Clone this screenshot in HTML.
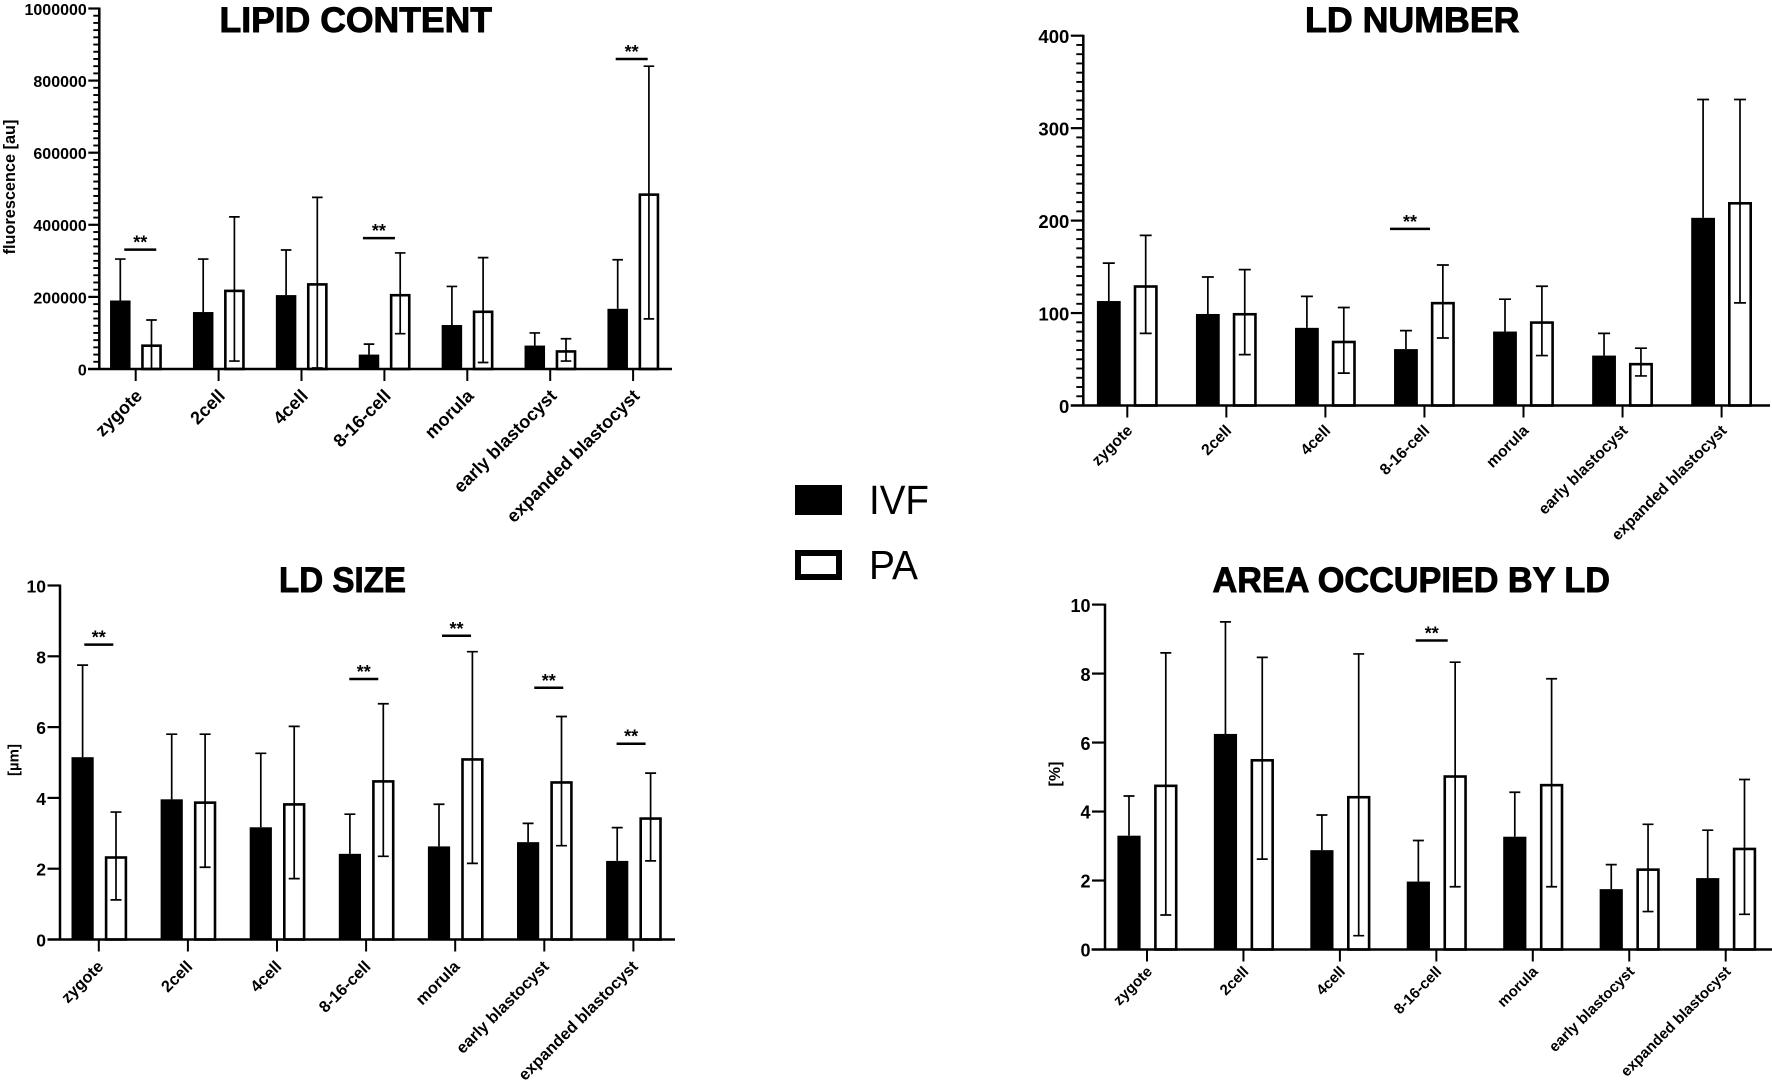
<!DOCTYPE html>
<html lang="en">
<head>
<meta charset="utf-8">
<title>Lipid droplet charts: IVF vs PA</title>
<style>
  html, body { margin: 0; padding: 0; background: #fff; }
  svg { display: block; filter: blur(0.3px); }
  text { font-family: "Liberation Sans", Arial, sans-serif; fill: #000; }
  .title { stroke: #000; stroke-width: 0.9; }
</style>
</head>
<body>
<svg id="figure" xmlns="http://www.w3.org/2000/svg" width="1772" height="1082" viewBox="0 0 1772 1082">
  <rect x="0" y="0" width="1772" height="1082" fill="#fff"/>
  <text class="title" x="219.5" y="32" font-size="35" font-weight="700" textLength="272.5" lengthAdjust="spacingAndGlyphs">LIPID CONTENT</text>
  <text class="title" x="1305" y="32" font-size="35" font-weight="700" textLength="214.5" lengthAdjust="spacingAndGlyphs">LD NUMBER</text>
  <text class="title" x="279" y="592" font-size="35" font-weight="700" textLength="127" lengthAdjust="spacingAndGlyphs">LD SIZE</text>
  <text class="title" x="1212.5" y="592" font-size="35" font-weight="700" textLength="397.5" lengthAdjust="spacingAndGlyphs">AREA OCCUPIED BY LD</text>
  <text transform="translate(15 187) rotate(-90)" text-anchor="middle" font-size="16.3" font-weight="700">fluorescence [au]</text>
  <text transform="translate(18.5 760) rotate(-90)" text-anchor="middle" font-size="15" font-weight="700">[µm]</text>
  <text transform="translate(1060 774) rotate(-90)" text-anchor="middle" font-size="16" font-weight="700">[%]</text>
  <g>
    <rect x="795" y="485" width="47" height="30" fill="#000"/>
    <text x="869" y="514" font-size="41" textLength="60" lengthAdjust="spacingAndGlyphs">IVF</text>
    <rect x="798" y="553" width="41" height="24" fill="#fff" stroke="#000" stroke-width="6"/>
    <text x="869" y="579" font-size="41" textLength="49" lengthAdjust="spacingAndGlyphs">PA</text>
  </g>
</svg>
<script>
// Shared categories
const categories = ["zygote", "2cell", "4cell", "8-16-cell", "morula", "early blastocyst", "expanded blastocyst"];

// LIPID CONTENT values
const lipidTicks = [0, 200000, 400000, 600000, 800000, 1000000];
const lipidIvf = [190000, 158000, 205000, 40000, 122000, 65000, 167000];
const lipidIvfUpper = [305000, 305000, 330000, 69000, 229000, 100000, 303000];
const lipidPa = [68000, 220000, 238000, 208000, 162000, 52000, 487000];
const lipidPaUpper = [136000, 422000, 476000, 322000, 309000, 84000, 840000];
const lipidPaLower = [0, 22000, 3000, 98000, 18000, 22000, 139000];
const lipidSigCategory = [0.055, 2.934, 5.983];
const lipidSigLevel = [331000, 363000, 860000];

// LD NUMBER values
const numberTicks = [0, 100, 200, 300, 400];
const numberIvf = [113, 99, 84, 61, 80, 54, 203];
const numberIvfUpper = [154, 139, 118, 81, 115, 78, 331];
const numberPa = [130, 100, 70, 112, 91, 46, 220];
const numberPaUpper = [184, 147, 106, 152, 129, 62, 331];
const numberPaLower = [78, 55, 35, 73, 54, 32, 111];
const numberSigCategory = [2.854];
const numberSigLevel = [191];

// LD SIZE values
const sizeTicks = [0, 2, 4, 6, 8, 10];
const sizeIvf = [5.15, 3.96, 3.17, 2.42, 2.63, 2.75, 2.22];
const sizeIvfUpper = [7.75, 5.8, 5.26, 3.54, 3.82, 3.28, 3.16];
const sizePa = [2.35, 3.9, 3.85, 4.5, 5.12, 4.47, 3.45];
const sizePaUpper = [3.6, 5.8, 6.02, 6.66, 8.13, 6.3, 4.7];
const sizePaLower = [1.12, 2.04, 1.72, 2.35, 2.15, 2.65, 2.22];
const sizeSigCategory = [0, 2.974, 4.015, 5.05, 5.974];
const sizeSigLevel = [8.33, 7.36, 8.58, 7.11, 5.53];

// AREA OCCUPIED values
const areaTicks = [0, 2, 4, 6, 8, 10];
const areaIvf = [3.3, 6.25, 2.88, 1.97, 3.27, 1.75, 2.07];
const areaIvfUpper = [4.45, 9.5, 3.9, 3.16, 4.56, 2.46, 3.46];
const areaPa = [4.78, 5.52, 4.45, 5.05, 4.8, 2.35, 2.95];
const areaPaUpper = [8.6, 8.47, 8.57, 8.33, 7.85, 3.63, 4.93];
const areaPaLower = [1.0, 2.62, 0.4, 1.82, 1.82, 1.1, 1.02];
const areaSigCategory = [2.952];
const areaSigLevel = [8.96];

const SVG_NS = "http://www.w3.org/2000/svg";
const figure = document.getElementById("figure");

function makeEl(tag, parent, attrs) {
  const el = document.createElementNS(SVG_NS, tag);
  for (const k in attrs) el.setAttribute(k, attrs[k]);
  parent.appendChild(el);
  return el;
}

function drawChart(c) {
  const yScale = v => c.yZero - (v / c.max) * (c.yZero - c.yTop);
  const xScale = i => c.firstTick + i * c.step;

  const group = makeEl("g", figure, {});
  
  

  // Bars and error bars
  categories.forEach((label, i) => {
    const ivfX = xScale(i) + c.ivfOffset;
    const paX = xScale(i) + c.paOffset;

    const ivfBar = makeEl("rect", group, {
      x: ivfX - c.barW / 2, y: yScale(c.ivf[i]),
      width: c.barW, height: c.yZero - yScale(c.ivf[i]), fill: "#000"
    });
    
    

    const paBar = makeEl("rect", group, {
      x: paX - c.barW / 2 + 1.2, y: yScale(c.pa[i]) + 1.2,
      width: c.barW - 2.4, height: c.yZero - yScale(c.pa[i]) - 1.2,
      fill: "#fff", stroke: "#000", "stroke-width": 2.6
    });
    
    

    const ivfErr = makeEl("path", group, {
      d: "M" + ivfX + " " + yScale(c.ivf[i]) + "V" + yScale(c.ivfUpper[i]) +
         "M" + (ivfX - c.cap) + " " + yScale(c.ivfUpper[i]) + "H" + (ivfX + c.cap),
      fill: "none", stroke: "#000", "stroke-width": 1.7
    });
    
    

    const paErr = makeEl("path", group, {
      d: "M" + paX + " " + yScale(c.paLower[i]) + "V" + yScale(c.paUpper[i]) +
         "M" + (paX - c.cap) + " " + yScale(c.paUpper[i]) + "H" + (paX + c.cap) +
         "M" + (paX - c.cap) + " " + yScale(c.paLower[i]) + "H" + (paX + c.cap),
      fill: "none", stroke: "#000", "stroke-width": 1.7
    });
    
    

    // Category tick and label
    const tick = makeEl("line", group, {
      x1: xScale(i), x2: xScale(i), y1: c.yZero, y2: c.yZero + c.catTick,
      stroke: "#000", "stroke-width": 2
    });
    
    

    const ax = xScale(i) + c.labelDx;
    const ay = c.yZero + c.labelDy;
    const catLabel = makeEl("text", group, {
      transform: "translate(" + ax + " " + ay + ") rotate(-45)",
      "text-anchor": "end", "font-size": c.labelSize, "font-weight": 700
    });
    catLabel.textContent = label;
    
    
  });

  // Axes
  const xAxis = makeEl("line", group, {
    x1: c.xAxisStart, x2: c.xAxisEnd, y1: c.yZero, y2: c.yZero,
    stroke: "#000", "stroke-width": 2.5
  });
  
  

  const yAxis = makeEl("line", group, {
    x1: c.axisX, x2: c.axisX, y1: c.yTop - 1, y2: c.yZero,
    stroke: "#000", "stroke-width": 2.5
  });
  
  

  c.ticks.forEach((value, k) => {
    if (value !== 0) {
      const major = makeEl("line", group, {
        x1: c.axisX - c.majorLen, x2: c.axisX, y1: yScale(value), y2: yScale(value),
        stroke: "#000", "stroke-width": 2.2
      });
      
      
    }
    const tl = makeEl("text", group, {
      x: c.axisX - c.majorLen - 1.5, y: yScale(value) + c.tickSize * 0.4,
      "text-anchor": "end", "font-size": c.tickSize, "font-weight": 700
    });
    tl.textContent = String(value);
    
    

    if (c.minorPerMajor && k < c.ticks.length - 1) {
      const next = c.ticks[k + 1];
      for (let m = 1; m < c.minorPerMajor; m++) {
        const mv = value + (next - value) * m / c.minorPerMajor;
        const minor = makeEl("line", group, {
          x1: c.axisX - c.minorLen, x2: c.axisX, y1: yScale(mv), y2: yScale(mv),
          stroke: "#000", "stroke-width": 1.9
        });
        
        
      }
    }
  });

  // Significance markers
  c.sigCategory.forEach((pos, i) => {
    const sx = xScale(pos);
    const sy = yScale(c.sigLevel[i]);
    const sigLine = makeEl("line", group, {
      x1: sx - c.sigLen / 2, x2: sx + c.sigLen / 2, y1: sy, y2: sy,
      stroke: "#000", "stroke-width": 2.5
    });
    
    

    const stars = makeEl("text", group, {
      x: sx, y: sy - 1, "text-anchor": "middle", "font-size": 18, "font-weight": 700
    });
    stars.textContent = "**";
    
    
  });
}

drawChart({
  name: "lipid-content", max: 1000000, ticks: lipidTicks,
  ivf: lipidIvf, ivfUpper: lipidIvfUpper, pa: lipidPa, paUpper: lipidPaUpper, paLower: lipidPaLower,
  sigCategory: lipidSigCategory, sigLevel: lipidSigLevel,
  axisX: 99.3, yTop: 8.5, yZero: 369, firstTick: 135.7, step: 82.9,
  xAxisStart: 88, xAxisEnd: 672, barW: 20.5, ivfOffset: -15.4, paOffset: 15.8,
  cap: 5.3, catTick: 12, majorLen: 11, minorLen: 6, minorPerMajor: 10,
  tickSize: 16, labelSize: 18.1, labelDx: 7.5, labelDy: 28, sigLen: 32
});

drawChart({
  name: "ld-number", max: 400, ticks: numberTicks,
  ivf: numberIvf, ivfUpper: numberIvfUpper, pa: numberPa, paUpper: numberPaUpper, paLower: numberPaLower,
  sigCategory: numberSigCategory, sigLevel: numberSigLevel,
  axisX: 1083.3, yTop: 35.7, yZero: 405.5, firstTick: 1127.3, step: 99.05,
  xAxisStart: 1070.7, xAxisEnd: 1770, barW: 23.8, ivfOffset: -18.5, paOffset: 18.4,
  cap: 6, catTick: 12, majorLen: 12.5, minorLen: 7, minorPerMajor: 10,
  tickSize: 18.5, labelSize: 15.7, labelDx: 6, labelDy: 26, sigLen: 40
});

drawChart({
  name: "ld-size", max: 10, ticks: sizeTicks,
  ivf: sizeIvf, ivfUpper: sizeIvfUpper, pa: sizePa, paUpper: sizePaUpper, paLower: sizePaLower,
  sigCategory: sizeSigCategory, sigLevel: sizeSigLevel,
  axisX: 60, yTop: 585.5, yZero: 939.5, firstTick: 98.8, step: 89.1,
  xAxisStart: 47.5, xAxisEnd: 675, barW: 22.2, ivfOffset: -16.2, paOffset: 17.2,
  cap: 5.5, catTick: 12, majorLen: 12.5, minorLen: 0, minorPerMajor: 0,
  tickSize: 17.5, labelSize: 16.3, labelDx: 5.5, labelDy: 28, sigLen: 29
});

drawChart({
  name: "area-occupied", max: 10, ticks: areaTicks,
  ivf: areaIvf, ivfUpper: areaIvfUpper, pa: areaPa, paUpper: areaPaUpper, paLower: areaPaLower,
  sigCategory: areaSigCategory, sigLevel: areaSigLevel,
  axisX: 1105, yTop: 604.6, yZero: 949.5, firstTick: 1147, step: 96.45,
  xAxisStart: 1091.6, xAxisEnd: 1772, barW: 23.2, ivfOffset: -18, paOffset: 18.8,
  cap: 5.5, catTick: 12, majorLen: 13, minorLen: 0, minorPerMajor: 0,
  tickSize: 18, labelSize: 15, labelDx: 6, labelDy: 23, sigLen: 32
});
</script>
</body>
</html>
